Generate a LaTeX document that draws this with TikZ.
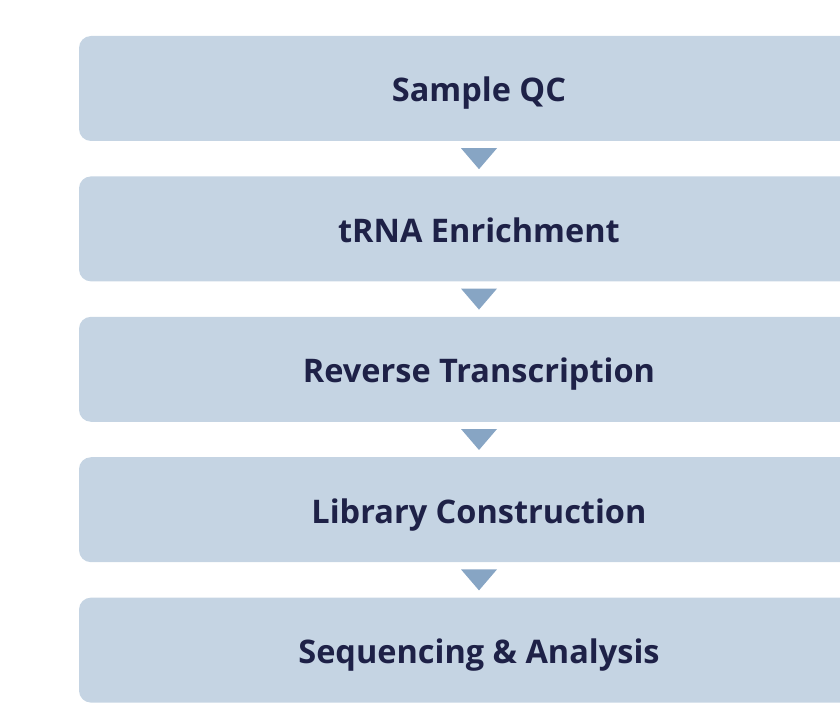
\documentclass[tikz,border=0pt]{standalone}
\usepackage{fontspec}
\setmainfont{Open Sans}
\usetikzlibrary{positioning,calc}
\definecolor{boxfill}{HTML}{C5D4E3}
\definecolor{tipfill}{HTML}{87A5C4}
\definecolor{textnavy}{HTML}{1E2147}
\begin{document}
\begin{tikzpicture}[x=1pt,y=1pt,
                stage/.style={fill=boxfill, rounded corners=12pt, minimum width=800pt, minimum height=105pt,
                    inner sep=0pt, text height=27pt, text depth=0pt, text=textnavy,
                    font=\fontsize{32.5}{38}\selectfont\bfseries},
                node distance=35pt
            ]
            \useasboundingbox (0,0) rectangle (840,-708);

            \node[stage] (qc) at (479,-88.5) {Sample QC};
            \node[stage, below=of qc] (enrich) {tRNA Enrichment};
            \node[stage, below=of enrich] (rt) {Reverse Transcription};
            \node[stage, below=of rt] (lib) {Library Construction};
            \node[stage, below=of lib] (seq) {Sequencing \& Analysis};

            % arrow tips between stages
            \foreach \a/\b in {qc/enrich, enrich/rt, rt/lib, lib/seq} {
                \coordinate (top) at ($(\a.south)+(0,-7)$);
                \coordinate (tip) at ($(\b.north)+(0,7)$);
                \fill[tipfill] ($(top)+(-18,0)$) -- ($(top)+(18,0)$) -- (tip) -- cycle;
            }
        \end{tikzpicture}
\end{document}
